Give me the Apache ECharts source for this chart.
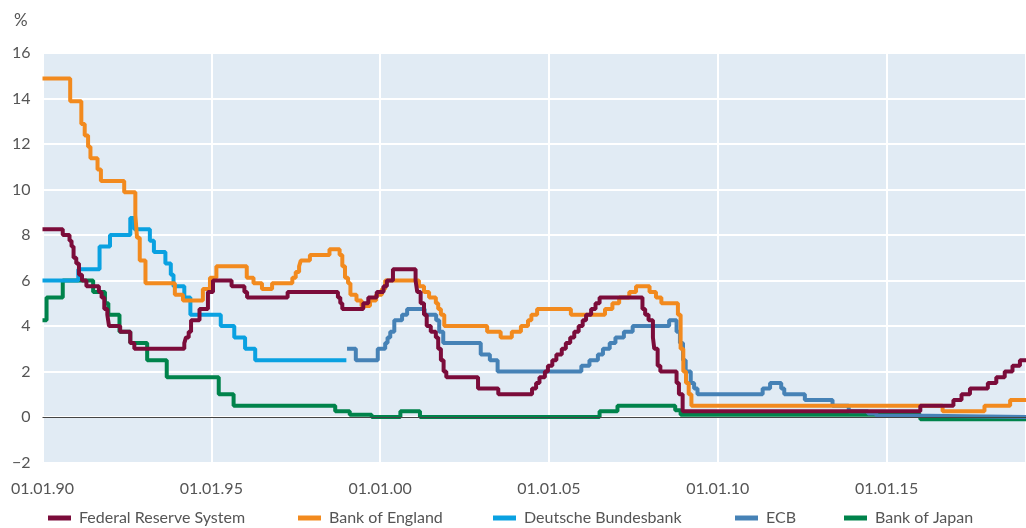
<!DOCTYPE html>
<html>
<head>
<meta charset="utf-8">
<script src="https://cdn.jsdelivr.net/npm/echarts@6/dist/echarts.min.js"></script>
<style>html,body{margin:0;padding:0;background:#fff}</style>
</head>
<body>
<div id="main" style="width:1026px;height:528px;"></div>
<script>
// policy rates in %, each point = [decimal year, rate from that date on]
var fed = [
  [1990.0, 8.25], [1990.6, 8.0], [1990.8, 7.75], [1990.86, 7.5], [1990.92, 7.0],
  [1991.0, 6.75], [1991.08, 6.25], [1991.17, 6.0], [1991.3, 5.75], [1991.67, 5.5],
  [1991.75, 5.25], [1991.83, 4.75], [1991.92, 4.5], [1991.97, 4.0], [1992.3, 3.75],
  [1992.6, 3.25], [1992.72, 3.0], [1994.2, 3.25], [1994.25, 3.5], [1994.33, 3.75],
  [1994.4, 4.25], [1994.65, 4.75], [1994.9, 5.5], [1995.05, 6.0], [1995.6, 5.75],
  [1995.98, 5.5], [1996.06, 5.25], [1997.26, 5.5], [1998.75, 5.25], [1998.82, 5.0],
  [1998.88, 4.75], [1999.5, 5.0], [1999.65, 5.25], [1999.9, 5.5], [2000.1, 5.75],
  [2000.2, 6.0], [2000.38, 6.5], [2001.05, 6.0], [2001.1, 5.5], [2001.2, 5.0],
  [2001.3, 4.5], [2001.38, 4.0], [2001.5, 3.75], [2001.65, 3.5], [2001.72, 3.0],
  [2001.8, 2.5], [2001.88, 2.0], [2001.96, 1.75], [2002.9, 1.25], [2003.5, 1.0],
  [2004.5, 1.25], [2004.62, 1.5], [2004.72, 1.75], [2004.88, 2.0], [2004.97, 2.25],
  [2005.1, 2.5], [2005.22, 2.75], [2005.38, 3.0], [2005.5, 3.25], [2005.63, 3.5],
  [2005.75, 3.75], [2005.88, 4.0], [2006.0, 4.25], [2006.1, 4.5], [2006.25, 4.75],
  [2006.38, 5.0], [2006.5, 5.25], [2007.77, 4.75], [2007.85, 4.5], [2007.95, 4.25],
  [2008.08, 3.5], [2008.12, 3.0], [2008.22, 2.25], [2008.3, 2.0], [2008.78, 1.5],
  [2008.85, 1.0], [2008.96, 0.25], [2016.0, 0.5], [2016.98, 0.75], [2017.22, 1.0],
  [2017.47, 1.25], [2018.0, 1.5], [2018.25, 1.75], [2018.5, 2.0], [2018.73, 2.25],
  [2018.95, 2.5], [2019.13, 2.5]
];
var boe = [
  [1990.0, 14.875], [1990.82, 13.875], [1991.15, 12.875], [1991.25, 12.375], [1991.35, 11.875],
  [1991.42, 11.375], [1991.63, 10.875], [1991.73, 10.375], [1992.42, 9.875], [1992.75, 8.875],
  [1992.8, 7.875], [1992.88, 6.875], [1993.05, 5.875], [1993.92, 5.375], [1994.16, 5.125],
  [1994.75, 5.625], [1994.96, 6.125], [1995.15, 6.625], [1996.05, 6.125], [1996.25, 5.875],
  [1996.5, 5.625], [1996.8, 5.875], [1997.4, 6.125], [1997.5, 6.375], [1997.6, 6.625],
  [1997.65, 6.875], [1997.92, 7.125], [1998.5, 7.375], [1998.8, 7.125], [1998.88, 6.625],
  [1998.96, 6.125], [1999.05, 5.875], [1999.12, 5.375], [1999.3, 5.125], [1999.45, 4.875],
  [1999.7, 5.125], [1999.88, 5.375], [2000.05, 5.625], [2000.15, 6.0], [2001.15, 5.75],
  [2001.3, 5.5], [2001.45, 5.25], [2001.65, 5.0], [2001.72, 4.75], [2001.8, 4.5],
  [2001.9, 4.0], [2003.17, 3.75], [2003.57, 3.5], [2003.9, 3.75], [2004.17, 4.0],
  [2004.38, 4.25], [2004.48, 4.5], [2004.65, 4.75], [2005.65, 4.5], [2006.66, 4.75],
  [2006.88, 5.0], [2007.08, 5.25], [2007.38, 5.5], [2007.58, 5.75], [2007.98, 5.5],
  [2008.17, 5.25], [2008.33, 5.0], [2008.82, 4.5], [2008.9, 3.0], [2008.98, 2.0],
  [2009.06, 1.5], [2009.14, 1.0], [2009.22, 0.5], [2016.66, 0.25], [2017.9, 0.5],
  [2018.66, 0.75], [2019.13, 0.75]
];
var bundesbank = [
  [1990.0, 6.0], [1991.06, 6.5], [1991.69, 7.5], [1992.0, 8.0], [1992.6, 8.75],
  [1992.72, 8.25], [1993.18, 7.75], [1993.3, 7.25], [1993.64, 6.75], [1993.8, 6.25],
  [1993.88, 5.75], [1994.2, 5.25], [1994.38, 4.5], [1995.28, 4.0], [1995.68, 3.5],
  [1996.0, 3.0], [1996.3, 2.5], [1999.0, 2.5]
];
var ecb = [
  [1999.02, 3.0], [1999.28, 2.5], [1999.93, 3.0], [2000.15, 3.25], [2000.22, 3.5],
  [2000.3, 3.75], [2000.42, 4.25], [2000.65, 4.5], [2000.8, 4.75], [2001.32, 4.5],
  [2001.66, 4.25], [2001.75, 3.75], [2001.87, 3.25], [2002.98, 2.75], [2003.25, 2.5],
  [2003.48, 2.0], [2005.96, 2.25], [2006.2, 2.5], [2006.45, 2.75], [2006.6, 3.0],
  [2006.8, 3.25], [2006.97, 3.5], [2007.22, 3.75], [2007.48, 4.0], [2008.56, 4.25],
  [2008.78, 3.75], [2008.88, 3.25], [2008.97, 2.5], [2009.05, 2.0], [2009.2, 1.5],
  [2009.3, 1.25], [2009.4, 1.0], [2011.33, 1.25], [2011.55, 1.5], [2011.88, 1.25],
  [2011.97, 1.0], [2012.58, 0.75], [2013.4, 0.5], [2013.88, 0.25], [2014.45, 0.15],
  [2014.7, 0.05], [2016.2, 0.0], [2019.13, 0.0]
];
var boj = [
  [1990.0, 4.25], [1990.12, 5.25], [1990.6, 6.0], [1991.5, 5.5], [1991.85, 5.0],
  [1991.95, 4.5], [1992.28, 3.75], [1992.6, 3.25], [1993.1, 2.5], [1993.68, 1.75],
  [1995.22, 1.0], [1995.66, 0.5], [1998.67, 0.25], [1999.1, 0.1], [1999.75, 0.0],
  [2000.6, 0.25], [2001.18, 0.0], [2006.5, 0.25], [2007.03, 0.5], [2008.74, 0.3],
  [2008.9, 0.1], [2016.0, -0.1], [2019.13, -0.1]
];
var names = ['Federal Reserve System', 'Bank of England', 'Deutsche Bundesbank', 'ECB', 'Bank of Japan'];
var colors = ['#7b0c3a', '#f28a1e', '#0aa1e1', '#4682b6', '#00834b'];
var legendLeft = [43, 293, 488, 730, 839];
var font = 'Lato, "Open Sans", sans-serif';

function lineSeries(i, data, z) {
  return {
    name: names[i], type: 'line', step: 'end', data: data, symbol: 'none', z: z,
    lineStyle: { width: 4, color: colors[i] }, itemStyle: { color: colors[i] }
  };
}

var myChart = echarts.init(document.getElementById('main'));

var series = [
  lineSeries(0, fed, 6),
  lineSeries(1, boe, 5),
  lineSeries(2, bundesbank, 4),
  lineSeries(3, ecb, 3),
  lineSeries(4, boj, 2)
];
// zero line
series[4].markLine = {
  silent: true, symbol: 'none', label: { show: false },
  lineStyle: { color: '#444', width: 1, type: 'solid' },
  data: [{ yAxis: 0 }]
};

var legends = names.map(function (n, i) {
  return {
    data: [n], left: legendLeft[i], top: 505, icon: 'rect',
    itemWidth: 23, itemHeight: 5, selectedMode: false,
    textStyle: { fontSize: 16, color: '#555', fontFamily: font, padding: [0, 0, 0, 3] }
  };
});

var option = {
  animation: false,
  title: { text: '%', left: 9, top: 7, textStyle: { fontSize: 17, fontWeight: 'normal', color: '#555', fontFamily: font } },
  legend: legends,
  grid: { left: 42.5, right: 0, top: 53, bottom: 65.5, show: true, backgroundColor: '#e1ebf4', borderWidth: 0 },
  xAxis: {
    type: 'value', min: 1990, max: 2019.13, interval: 5,
    axisLine: { show: false }, axisTick: { show: false },
    splitLine: { show: true, lineStyle: { color: '#fff', width: 2 } },
    axisLabel: {
      margin: 18, fontSize: 16, color: '#555', fontFamily: font, showMaxLabel: false,
      formatter: function (v) {
        if (v % 5 !== 0) return '';
        return '01.01.' + String(v).slice(2);
      }
    }
  },
  yAxis: {
    type: 'value', min: -2, max: 16, interval: 2,
    axisLine: { show: false }, axisTick: { show: false },
    splitLine: { show: true, lineStyle: { color: '#fff', width: 2 } },
    axisLabel: {
      margin: 12, fontSize: 16, color: '#555', fontFamily: font,
      formatter: function (v) { return v < 0 ? '\u2212' + Math.abs(v) : String(v); }
    }
  },
  series: series
};

myChart.setOption(option);
</script>
</body>
</html>
